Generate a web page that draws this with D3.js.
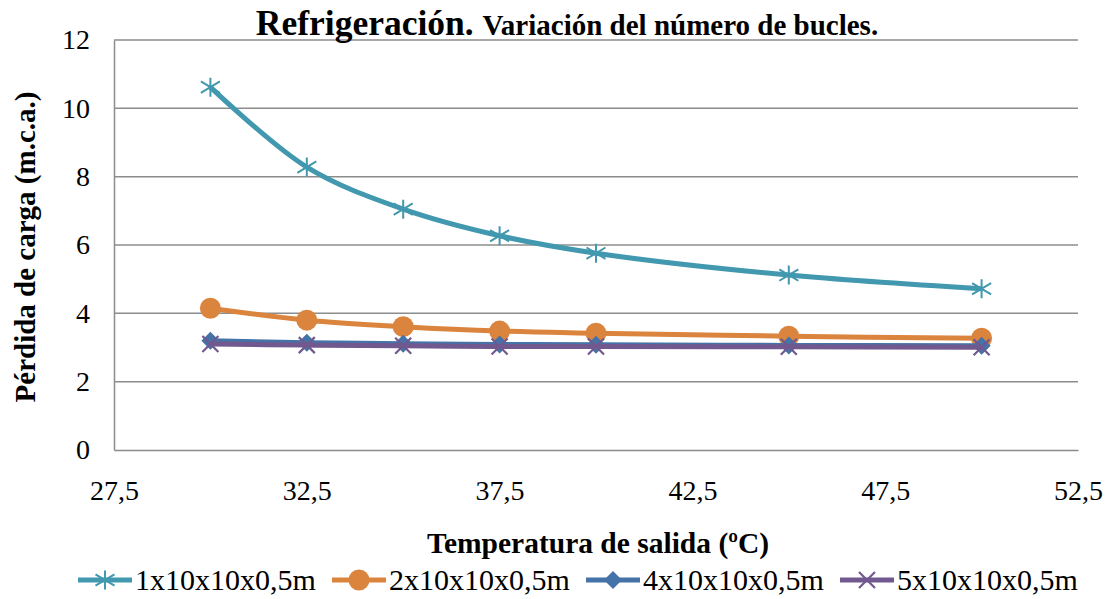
<!DOCTYPE html>
<html>
<head>
<meta charset="utf-8">
<script src="https://cdn.jsdelivr.net/npm/d3@7"></script>
<style>
  body { margin: 0; background: #fff; }
  svg text { font-family: "Liberation Serif", "Times New Roman", Times, serif; fill: #000; }
</style>
</head>
<body>
<svg id="chart"></svg>
<script>
const temps = [30, 32.5, 35, 37.5, 40, 45, 50];
const names = ["1x10x10x0,5m", "2x10x10x0,5m", "4x10x10x0,5m", "5x10x10x0,5m"];
const s1 = [10.62, 8.28, 7.05, 6.27, 5.76, 5.12, 4.72];
const s2 = [4.15, 3.8, 3.61, 3.48, 3.42, 3.33, 3.27];
const s3 = [3.2, 3.14, 3.11, 3.09, 3.08, 3.06, 3.05];
const s4 = [3.1, 3.07, 3.05, 3.03, 3.03, 3.02, 3.01];
const xTicks = [27.5, 32.5, 37.5, 42.5, 47.5, 52.5];
const yTicks = [0, 2, 4, 6, 8, 10, 12];

const colors = ["#4198af", "#db843d", "#4572a7", "#71588f"];
const markers = ["star", "circle", "diamond", "cross"];
const allSeries = [s1, s2, s3, s4];

const W = 1110, H = 599;
const margin = { top: 40, right: 32, bottom: 149, left: 114 },
  width = W - margin.left - margin.right,
  height = H - margin.top - margin.bottom;

const root = d3.select("#chart").attr("width", W).attr("height", H);
const svg = root.append("g").attr("transform", `translate(${margin.left},${margin.top})`);

const x = d3.scaleLinear().domain([27.5, 52.5]).range([0, width]);
const y = d3.scaleLinear().domain([0, 12]).range([height, 0]);
const fmt = (d) => String(d).replace(".", ",");

// gridlines
svg.selectAll(".grid")
  .data(yTicks.slice(1))
  .enter()
  .append("line")
  .attr("x1", 0).attr("x2", width)
  .attr("y1", (d) => y(d)).attr("y2", (d) => y(d))
  .attr("stroke", "#8c8c8c").attr("stroke-width", 1.5);

// axes
const yAxis = svg.append("g").call(d3.axisLeft(y).tickValues(yTicks).tickSize(0).tickPadding(24));
const xAxis = svg.append("g").attr("transform", `translate(0,${height})`)
  .call(d3.axisBottom(x).tickValues(xTicks).tickFormat(fmt).tickSize(0).tickPadding(30));
[xAxis, yAxis].forEach((a) => {
  a.attr("font-family", null).attr("font-size", null);
  a.select(".domain").attr("stroke", "#8c8c8c").attr("stroke-width", 1.5);
  a.selectAll("text").style("font-size", "28px").attr("fill", "#000");
});

function drawMarker(g, type, color) {
  if (type === "star") {
    const r = 9.5;
    g.append("path")
      .attr("d", `M0,${-r}V${r}M${-r},${-r * 0.6}L${r},${r * 0.6}M${-r},${r * 0.6}L${r},${-r * 0.6}`)
      .attr("stroke", color).attr("stroke-width", 2).attr("fill", "none");
  } else if (type === "circle") {
    g.append("circle").attr("r", 10.5).attr("fill", color);
  } else if (type === "diamond") {
    g.append("path").attr("d", "M0,-9L9,0L0,9L-9,0Z").attr("fill", color);
  } else {
    const r = 8;
    g.append("path").attr("d", `M${-r},${-r}L${r},${r}M${-r},${r}L${r},${-r}`)
      .attr("stroke", color).attr("stroke-width", 2.2).attr("fill", "none");
  }
}

const line = d3.line()
  .x((d, i) => x(temps[i]))
  .y((d) => y(d))
  .curve(d3.curveCatmullRom.alpha(0.5));

allSeries.forEach((vals, k) => {
  svg.append("path")
    .datum(vals)
    .attr("d", line)
    .attr("fill", "none")
    .attr("stroke", colors[k])
    .attr("stroke-width", 5)
    .attr("stroke-linejoin", "round");
  vals.forEach((v, i) => {
    const g = svg.append("g").attr("transform", `translate(${x(temps[i])},${y(v)})`);
    drawMarker(g, markers[k], colors[k]);
  });
});

// title
const title = root.append("text")
  .attr("x", 567).attr("y", 35)
  .attr("text-anchor", "middle")
  .style("font-weight", "bold");
title.append("tspan").style("font-size", "35.5px").text("Refrigeración. ");
title.append("tspan").style("font-size", "29px").text("Variación del número de bucles.");

// axis titles
root.append("text")
  .attr("x", 598).attr("y", 553)
  .attr("text-anchor", "middle")
  .style("font-weight", "bold").style("font-size", "29.5px")
  .text("Temperatura de salida (ºC)");

root.append("text")
  .attr("transform", `translate(35,${margin.top + height / 2 + 2}) rotate(-90)`)
  .attr("text-anchor", "middle")
  .style("font-weight", "bold").style("font-size", "29px")
  .text("Pérdida de carga (m.c.a.)");

// legend
const legendX = [78, 332, 586, 840];
names.forEach((n, k) => {
  const g = root.append("g").attr("transform", `translate(${legendX[k]},580)`);
  g.append("line").attr("x1", 0).attr("x2", 54).attr("stroke", colors[k]).attr("stroke-width", 5);
  const m = g.append("g").attr("transform", "translate(27,0)");
  drawMarker(m, markers[k], colors[k]);
  g.append("text").attr("x", 57).attr("y", 10).style("font-size", "30px").text(n);
});
</script>
</body>
</html>
